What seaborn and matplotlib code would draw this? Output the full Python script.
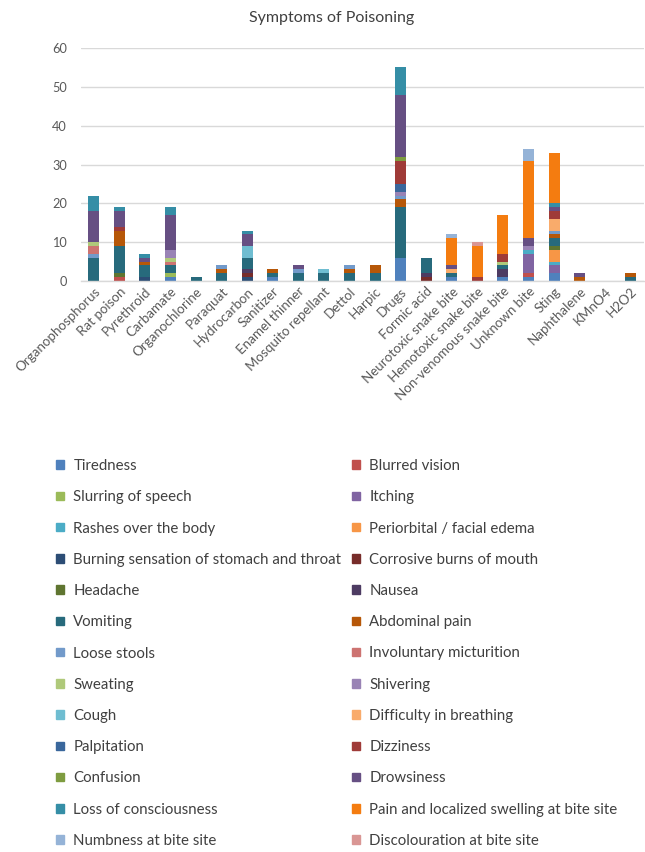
import matplotlib
matplotlib.use("Agg")
import matplotlib.pyplot as plt
import matplotlib.patches as mpatches
import numpy as np
import pandas as pd
import seaborn as sns

categories = ["Organophosphorus", "Rat poison", "Pyrethroid", "Carbamate", "Organochlorine",
              "Paraquat", "Hydrocarbon", "Sanitizer", "Enamel thinner", "Mosquito repellant",
              "Dettol", "Harpic", "Drugs", "Formic acid", "Neurotoxic snake bite",
              "Hemotoxic snake bite", "Non-venomous snake bite", "Unknown bite", "Sting",
              "Naphthalene", "KMnO4", "H2O2"]

#                 OP RP Py Ca Oc Pq Hy Sa En Mo De Ha Dr Fo Ne He No Un St Na Km H2
tiredness      = [0, 0, 0, 1, 0, 0, 0, 1, 0, 0, 0, 0, 6, 0, 1, 0, 1, 1, 2, 0, 0, 0]
blurred_vision = [0, 1, 0, 0, 0, 0, 0, 0, 0, 0, 0, 0, 0, 0, 0, 0, 0, 1, 0, 0, 0, 0]
slurring       = [0, 0, 0, 1, 0, 0, 0, 0, 0, 0, 0, 0, 0, 0, 0, 0, 0, 0, 0, 0, 0, 0]
itching        = [0, 0, 0, 0, 0, 0, 0, 0, 0, 0, 0, 0, 0, 0, 0, 0, 0, 5, 2, 0, 0, 0]
rashes         = [0, 0, 0, 0, 0, 0, 0, 0, 0, 0, 0, 0, 0, 0, 0, 0, 0, 1, 1, 0, 0, 0]
periorbital    = [0, 0, 0, 0, 0, 0, 0, 0, 0, 0, 0, 0, 0, 0, 0, 0, 0, 0, 3, 0, 0, 0]
burning        = [0, 0, 1, 0, 0, 0, 1, 0, 0, 0, 0, 0, 0, 0, 0, 0, 0, 0, 0, 0, 0, 0]
corrosive      = [0, 0, 0, 0, 0, 0, 1, 0, 0, 0, 0, 0, 0, 1, 0, 0, 0, 0, 0, 0, 0, 0]
headache       = [0, 1, 0, 0, 0, 0, 0, 0, 0, 0, 0, 0, 0, 0, 0, 0, 0, 0, 1, 0, 0, 0]
nausea         = [0, 0, 0, 0, 0, 0, 1, 0, 0, 0, 0, 0, 0, 1, 0, 0, 2, 0, 0, 0, 0, 0]
vomiting       = [6, 7, 3, 2, 1, 2, 3, 1, 2, 2, 2, 2, 13, 4, 1, 0, 1, 0, 2, 0, 0, 1]
abdominal_pain = [0, 4, 1, 0, 0, 1, 0, 1, 0, 0, 1, 2, 2, 0, 0, 0, 0, 0, 1, 1, 0, 1]
loose_stools   = [1, 0, 0, 0, 0, 1, 0, 0, 1, 0, 1, 0, 1, 0, 0, 0, 0, 0, 1, 0, 0, 0]
micturition    = [2, 0, 0, 1, 0, 0, 0, 0, 0, 0, 0, 0, 0, 0, 0, 0, 0, 0, 0, 0, 0, 0]
sweating       = [1, 0, 0, 1, 0, 0, 0, 0, 0, 0, 0, 0, 0, 0, 0, 0, 1, 0, 0, 0, 0, 0]
shivering      = [0, 0, 0, 2, 0, 0, 0, 0, 0, 0, 0, 0, 1, 0, 0, 0, 0, 1, 0, 0, 0, 0]
cough          = [0, 0, 0, 0, 0, 0, 3, 0, 0, 1, 0, 0, 0, 0, 0, 0, 0, 0, 0, 0, 0, 0]
breathing      = [0, 0, 0, 0, 0, 0, 0, 0, 0, 0, 0, 0, 0, 0, 1, 0, 0, 0, 3, 0, 0, 0]
palpitation    = [0, 0, 0, 0, 0, 0, 0, 0, 0, 0, 0, 0, 2, 0, 0, 0, 0, 0, 0, 0, 0, 0]
dizziness      = [0, 1, 0, 0, 0, 0, 0, 0, 0, 0, 0, 0, 6, 0, 0, 1, 2, 0, 2, 0, 0, 0]
confusion      = [0, 0, 0, 0, 0, 0, 0, 0, 0, 0, 0, 0, 1, 0, 0, 0, 0, 0, 0, 0, 0, 0]
drowsiness     = [8, 4, 1, 9, 0, 0, 3, 0, 1, 0, 0, 0, 16, 0, 1, 0, 0, 2, 1, 1, 0, 0]
consciousness  = [4, 1, 1, 2, 0, 0, 1, 0, 0, 0, 0, 0, 7, 0, 0, 0, 0, 0, 1, 0, 0, 0]
pain_swelling  = [0, 0, 0, 0, 0, 0, 0, 0, 0, 0, 0, 0, 0, 0, 7, 8, 10, 20, 13, 0, 0, 0]
numbness       = [0, 0, 0, 0, 0, 0, 0, 0, 0, 0, 0, 0, 0, 0, 1, 0, 0, 3, 0, 0, 0, 0]
discolouration = [0, 0, 0, 0, 0, 0, 0, 0, 0, 0, 0, 0, 0, 0, 0, 1, 0, 0, 0, 0, 0, 0]

symptoms = ["Tiredness", "Blurred vision", "Slurring of speech", "Itching",
            "Rashes over the body", "Periorbital / facial edema",
            "Burning sensation of stomach and throat", "Corrosive burns of mouth",
            "Headache", "Nausea", "Vomiting", "Abdominal pain", "Loose stools",
            "Involuntary micturition", "Sweating", "Shivering", "Cough",
            "Difficulty in breathing", "Palpitation", "Dizziness", "Confusion",
            "Drowsiness", "Loss of consciousness", "Pain and localized swelling at bite site",
            "Numbness at bite site", "Discolouration at bite site"]

series = [tiredness, blurred_vision, slurring, itching, rashes, periorbital, burning,
          corrosive, headache, nausea, vomiting, abdominal_pain, loose_stools, micturition,
          sweating, shivering, cough, breathing, palpitation, dizziness, confusion,
          drowsiness, consciousness, pain_swelling, numbness, discolouration]

colors = ["#4F81BD", "#C0504D", "#9BBB59", "#8064A2", "#4BACC6", "#F79646",
          "#2C4D75", "#772C2A", "#5F7530", "#4D3B62", "#276A7C", "#B65708",
          "#729ACA", "#CD7371", "#AFC97A", "#9983B5", "#6FBDD1", "#F9AB6B",
          "#3A679C", "#9F3B38", "#7E9C40", "#664F83", "#358EA6", "#F47C10",
          "#95B3D7", "#D99694"]

sns.set_theme(style="white")
plt.rcParams["font.family"] = ["Lato", "DejaVu Sans"]

fig = plt.figure(figsize=(6.45, 8.52), dpi=100)
ax = fig.add_axes([81 / 645, 1 - 281 / 852, (643.6 - 81) / 645, (281 - 48) / 852])

bottom = np.zeros(len(categories))
for name, vals, col in zip(symptoms, series, colors):
    df = pd.DataFrame({"cat": categories, "val": vals})
    sns.barplot(data=df, x="cat", y="val", order=categories, bottom=bottom.copy(),
                color=col, width=0.43, errorbar=None, linewidth=0, ax=ax,
                saturation=1)
    bottom += np.array(vals)

ax.set_ylim(0, 60)
ax.set_xlim(-0.5, len(categories) - 0.5)
ax.set_yticks(range(0, 61, 10))
ax.yaxis.grid(True, color="#D9D9D9", linewidth=1)
ax.set_axisbelow(True)
for s in ["top", "right", "left"]:
    ax.spines[s].set_visible(False)
ax.spines["bottom"].set_color("#D9D9D9")
ax.spines["bottom"].set_linewidth(1)
ax.set_xlabel("")
ax.set_ylabel("")
ax.tick_params(axis="both", length=0, colors="#595959", labelsize=9.6)
ax.tick_params(axis="y", pad=10, labelsize=9.2)
ax.tick_params(axis="x", pad=3)
ax.set_xticks(range(len(categories)))
ax.set_xticklabels(categories, rotation=45, ha="right", va="top",
                   rotation_mode="anchor", color="#595959")

fig.text(332 / 645, 1 - 18 / 852, "Symptoms of Poisoning", ha="center", va="center",
         fontsize=11.5, color="#404040")

handles = [mpatches.Patch(color=c) for c in colors]
left_idx = list(range(0, 26, 2))
right_idx = list(range(1, 26, 2))
common = dict(frameon=False, fontsize=10.8, handlelength=0.5, handleheight=0.5,
              handletextpad=0.65, labelspacing=1.15, borderpad=0, borderaxespad=0,
              labelcolor="#404040")
leg1 = fig.legend([handles[i] for i in left_idx], [symptoms[i] for i in left_idx],
                  loc="upper left", bbox_to_anchor=(56 / 645, 1 - 459 / 852), **common)
leg2 = fig.legend([handles[i] for i in right_idx], [symptoms[i] for i in right_idx],
                  loc="upper left", bbox_to_anchor=(352 / 645, 1 - 459 / 852), **common)

fig.savefig("out.png", dpi=100)
